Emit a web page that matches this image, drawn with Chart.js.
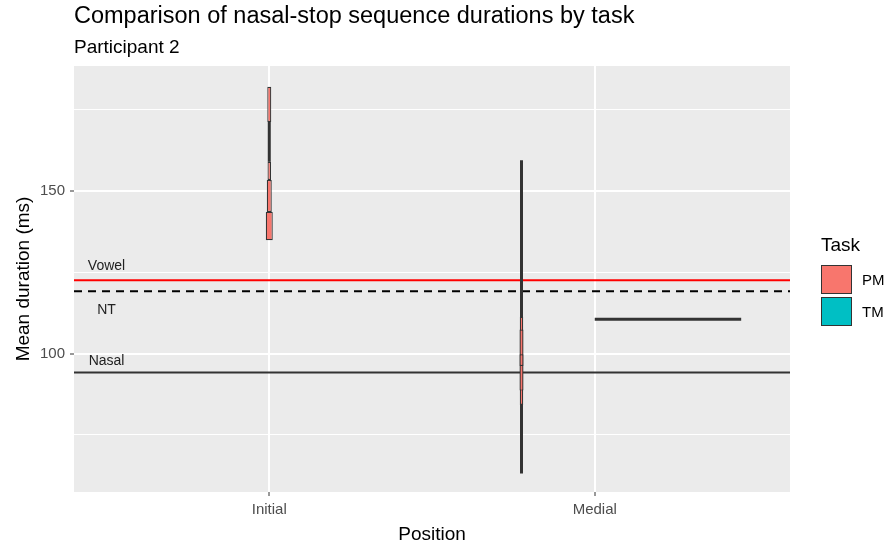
<!DOCTYPE html>
<html>
<head>
<meta charset="utf-8">
<script src="https://cdn.jsdelivr.net/npm/chart.js@4.4.1/dist/chart.umd.min.js"></script>
<style>
    body { margin: 0; background: #fff; font-family: "Liberation Sans", Arial, sans-serif; }
    #contenedor { position: relative; width: 891px; height: 546px; }
    #grafica { position: absolute; left: 0; top: 0; }
    .texto { position: absolute; line-height: 1; white-space: nowrap; color: #000; }
    .clave { position: absolute; width: 29px; height: 27px; border: 1px solid #333; }
</style>
</head>
<body>
<div id="contenedor">
    <canvas id="grafica" width="891" height="546"></canvas>
    <div class="texto" style="left:74px; top:4px; font-size:23.5px;">Comparison of nasal-stop sequence durations by task</div>
    <div class="texto" style="left:74px; top:37px; font-size:19px;">Participant 2</div>
    <div class="texto" style="left:821px; top:235px; font-size:19px;">Task</div>
    <div class="clave" style="left:821px; top:265px; background:#F8766D;"></div>
    <div class="clave" style="left:821px; top:297px; background:#00BFC4;"></div>
    <div class="texto" style="left:862px; top:272px; font-size:15px;">PM</div>
    <div class="texto" style="left:862px; top:304px; font-size:15px;">TM</div>
</div>
<script>
// Datos (ms)
var posiciones = ['Initial', 'Medial'];
var pmCajasInitial = [[134.9, 143.6], [143.6, 153.4], [153.4, 159.0], [171.3, 182.1]];
var pmBigoteInitial = [159.0, 171.3];
var pmCajasMedial = [[84.2, 111.3], [88.6, 107.4], [96.2, 99.8]];
var pmBigoteMedial = [63.1, 159.5];
var tmMedial = 110.6;
var referenciaNombres = ['Vowel', 'NT', 'Nasal'];
var referenciaValores = [122.6, 119.2, 94.2];
var referenciaEtiquetaY = [126.9, 113.4, 97.7];
var yMarcas = [75, 100, 125, 150, 175];
var yEtiquetas = [100, 150];

// Estilos (anchos en px, separados de los datos)
var anchosInitial = [7, 5, 3.5, 4];
var anchosMedial = [3.5, 4, 4];
var esquivar = 0.225; // medio ancho del dodge en Medial
var colorPM = '#F8766D';
var estilosReferencia = [
    { color: '#FF0000', dash: [] },
    { color: '#000000', dash: [8, 6] },
    { color: '#333333', dash: [] }
];

// Fondo gris del panel
var fondoPanel = {
    id: 'fondoPanel',
    beforeDraw: function (chart) {
        var a = chart.chartArea;
        chart.ctx.save();
        chart.ctx.fillStyle = '#EBEBEB';
        chart.ctx.fillRect(a.left, a.top, a.right - a.left, a.bottom - a.top);
        chart.ctx.restore();
    }
};

// Etiquetas de las líneas de referencia
var etiquetasReferencia = {
    id: 'etiquetasReferencia',
    afterDatasetsDraw: function (chart) {
        var c = chart.ctx;
        c.save();
        c.font = '14px "Liberation Sans", Arial, sans-serif';
        c.fillStyle = '#222';
        c.textAlign = 'center';
        c.textBaseline = 'middle';
        referenciaNombres.forEach(function (nombre, i) {
            c.fillText(nombre, chart.scales.x.getPixelForValue(0.5), chart.scales.y.getPixelForValue(referenciaEtiquetaY[i]));
        });
        c.restore();
    }
};

function caja(x, rango, ancho, relleno, borde, orden) {
    return {
        type: 'bar',
        data: [{ x: x, y: rango }],
        backgroundColor: relleno,
        borderColor: '#333333',
        borderWidth: borde,
        borderSkipped: false,
        grouped: false,
        maxBarThickness: ancho,
        order: orden
    };
}

var datasets = [];

// Líneas de referencia (detrás)
referenciaValores.forEach(function (v, i) {
    datasets.push({
        type: 'line',
        data: [{ x: 0.4, y: v }, { x: 2.6, y: v }],
        borderColor: estilosReferencia[i].color,
        borderDash: estilosReferencia[i].dash,
        borderWidth: 2,
        pointRadius: 0,
        order: 10
    });
});

// Bigotes PM
datasets.push(caja(1, pmBigoteInitial, 3, '#333333', 0, 5));
datasets.push(caja(2 - esquivar, pmBigoteMedial, 3, '#333333', 0, 5));

// Cajas PM
pmCajasInitial.forEach(function (r, i) {
    datasets.push(caja(1, r, anchosInitial[i], colorPM, 1.2, 4 - i * 0.1));
});
pmCajasMedial.forEach(function (r, i) {
    datasets.push(caja(2 - esquivar, r, anchosMedial[i], colorPM, 1.2, 4 - i * 0.1));
});

// TM en Medial (caja sin altura)
datasets.push({
    type: 'line',
    data: [{ x: 2, y: tmMedial }, { x: 2 + 2 * esquivar, y: tmMedial }],
    borderColor: '#333333',
    borderWidth: 3,
    pointRadius: 0,
    order: 3
});

var fuente = '"Liberation Sans", Arial, sans-serif';

new Chart(document.getElementById('grafica').getContext('2d'), {
    type: 'bar',
    data: { datasets: datasets },
    plugins: [fondoPanel, etiquetasReferencia],
    options: {
        responsive: false,
        animation: false,
        layout: { padding: { top: 66, right: 101, left: 0, bottom: 0 } },
        plugins: { legend: { display: false }, tooltip: { enabled: false } },
        scales: {
            x: {
                type: 'linear',
                min: 0.4,
                max: 2.6,
                offset: false,
                afterBuildTicks: function (s) { s.ticks = [1, 2].map(function (v) { return { value: v }; }); },
                afterFit: function (s) { s.height = 54; },
                border: { display: false },
                grid: { color: '#FFFFFF', lineWidth: 2, offset: false, tickLength: 4, tickColor: '#333333', tickWidth: 1 },
                ticks: {
                    callback: function (v) { return posiciones[v - 1]; },
                    color: '#4D4D4D', font: { family: fuente, size: 15 }, padding: 5, autoSkip: false, maxRotation: 0
                },
                title: { display: true, text: 'Position', color: '#000', font: { family: fuente, size: 19, lineHeight: 1 }, padding: { top: 0, bottom: 1.5 } }
            },
            y: {
                min: 57.4,
                max: 188.5,
                afterBuildTicks: function (s) { s.ticks = yMarcas.map(function (v) { return { value: v }; }); },
                afterFit: function (s) { s.width = 74; },
                border: { display: false },
                grid: {
                    color: '#FFFFFF',
                    lineWidth: function (c) { return c.tick && yEtiquetas.indexOf(c.tick.value) >= 0 ? 2 : 1; },
                    tickColor: function (c) { return c.tick && yEtiquetas.indexOf(c.tick.value) >= 0 ? '#333333' : 'rgba(0,0,0,0)'; },
                    tickLength: 4,
                    tickWidth: 1
                },
                ticks: {
                    callback: function (v) { return yEtiquetas.indexOf(v) >= 0 ? String(v) : ''; },
                    color: '#4D4D4D', font: { family: fuente, size: 15 }, padding: 5
                },
                title: { display: true, text: 'Mean duration (ms)', color: '#000', font: { family: fuente, size: 19, lineHeight: 1 }, padding: { top: 14, bottom: 0 } }
            }
        }
    }
});
</script>
</body>
</html>
